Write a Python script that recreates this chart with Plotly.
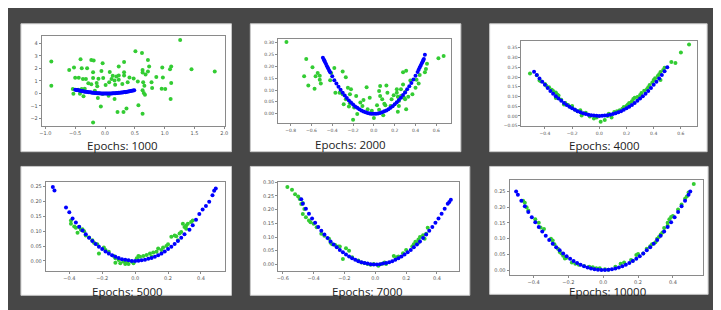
import plotly.graph_objects as go

W, H = 721, 310

# ---------------- DATA ----------------
epochs = ["Epochs: 1000", "Epochs: 2000", "Epochs: 4000",
          "Epochs: 5000", "Epochs: 7000", "Epochs: 10000"]

# Panel 1 (Epochs 1000)
g1x = [-0.90, -0.90, -0.60, -0.52, -0.41, -0.23, -0.19, -0.30, -0.39, -0.04, 1.26, 0.51, 0.62, 0.32,
       0.72, 0.23, -0.06, 0.08, -0.20, 0.32, 0.63, 0.74, 0.96, 1.11, 1.09, 1.45, 1.84, 0.72, 0.68,
       0.63, 0.86, 0.97, -0.50, -0.44, -0.32, -0.37, -0.20, -0.11, -0.03, 0.13, 0.19, 0.23, 0.32,
       0.41, 0.48, 0.11, 0.16, 0.23, 0.38, 0.55, 0.64, 0.78, 1.11, -0.28, -0.14, -0.23, 0.07, 0.01,
       0.17, 0.29, -0.13, -0.34, -0.39, -0.45, -0.54, 0.66, 0.79, 0.95, 1.01, 0.63, 0.65, 0.67,
       -0.53, -0.42, -0.17, -0.04, 0.06, 0.34, -0.36, -0.12, 0.16, 1.10, 0.56, -0.07, 0.36, 0.21,
       0.31, 0.63, -0.20]
g1y = [2.55, 0.61, 1.88, 2.07, 2.73, 2.68, 2.63, 2.02, 2.02, 2.41, 4.27, 3.37, 3.24, 2.52,
       2.68, 2.15, 1.80, 1.72, 1.70, 1.70, 1.88, 2.15, 2.07, 2.15, 1.94, 1.94, 1.75, 1.75, 1.51,
       1.67, 1.30, 1.27, 1.25, 1.25, 1.14, 1.14, 1.22, 1.17, 1.22, 1.41, 1.35, 1.43, 1.43,
       1.27, 1.19, 1.14, 1.03, 1.09, 0.88, 0.95, 0.88, 0.88, 0.82, 0.80, 0.82, 0.72, 0.88, 0.66,
       0.69, 0.74, 0.56, 0.37, 0.34, 0.29, 0.34, 0.61, 0.42, 0.37, 0.34, 0.24, 0.03, -0.11,
       -0.03, -0.03, 0.21, -0.05, -0.19, 0.08, -0.24, -0.37, -0.45, -0.45, -0.95, -1.06, -1.22, -1.49,
       -1.49, -1.64, -2.33]
b1x = [-0.50, -0.48, -0.47, -0.45, -0.43, -0.41, -0.39, -0.37, -0.35, -0.33, -0.31, -0.29, -0.27,
       -0.25, -0.23, -0.21, -0.19, -0.17, -0.15, -0.13, -0.11, -0.09, -0.07, -0.05, -0.03, -0.01,
       0.01, 0.03, 0.05, 0.07, 0.09, 0.11, 0.13, 0.15, 0.17, 0.19, 0.21, 0.23, 0.25, 0.27, 0.29,
       0.31, 0.33, 0.35, 0.37, 0.39, 0.41, 0.43, 0.45, 0.47, 0.49]
b1y = [0.29, 0.27, 0.26, 0.24, 0.22, 0.20, 0.18, 0.16, 0.15, 0.13, 0.12, 0.10, 0.09,
       0.08, 0.06, 0.05, 0.04, 0.03, 0.02, 0.01, 0.00, 0.00, -0.01, -0.01, -0.02, -0.02,
       -0.02, -0.02, -0.02, -0.02, -0.01, -0.01, 0.00, 0.00, 0.01, 0.02, 0.03, 0.04, 0.05, 0.06, 0.07,
       0.08, 0.10, 0.11, 0.13, 0.15, 0.16, 0.18, 0.20, 0.22, 0.24]

# Panel 2 (Epochs 2000)
g2x = [-0.84, -0.65, -0.67, -0.63, -0.59, -0.54, -0.56, -0.52, -0.52, -0.51, -0.57, -0.42, -0.30,
       -0.27, -0.37, -0.33, -0.25, -0.22, -0.30, -0.23, -0.27, -0.29, -0.24, -0.23, -0.19, -0.17,
       -0.16, -0.20, -0.13, -0.10, -0.07, -0.11, -0.06, -0.04, -0.03, -0.02, 0.00, 0.03, 0.05, 0.06,
       0.06, 0.08, 0.10, 0.11, 0.05, 0.09, 0.12, 0.13, 0.16, 0.17, 0.19, 0.22, 0.22, 0.23, 0.24,
       0.24, 0.23, 0.26, 0.26, 0.28, 0.30, 0.29, 0.30, 0.28, 0.31, 0.31, 0.33, 0.35, 0.37, 0.40,
       0.41, 0.43, 0.44, 0.49, 0.50, 0.51, 0.62, 0.67, -0.38, -0.41]
g2y = [0.303, 0.231, 0.158, 0.119, 0.197, 0.172, 0.158, 0.161, 0.144, 0.128, 0.106, 0.142, 0.179,
       0.154, 0.089, 0.089, 0.110, 0.103, 0.082, 0.082, 0.061, 0.040, 0.031, 0.044, 0.026, 0.075,
       -0.001, -0.026, 0.047, 0.058, 0.112, 0.033, 0.019, 0.068, 0.001, 0.012, -0.018, 0.036, 0.096, 0.117,
       0.075, 0.061, 0.042, 0.036, 0.017, -0.006, 0.119, 0.089, 0.033, 0.061, 0.078, 0.103, 0.089, 0.072, 0.054,
       0.033, 0.008, 0.103, 0.075, 0.124, 0.092, 0.068, 0.061, 0.175, 0.182, 0.019, 0.072, 0.140, 0.082, 0.110,
       0.144, 0.128, 0.164, 0.175, 0.189, 0.211, 0.235, 0.244, 0.193, 0.172]
b2x = [-0.49, -0.48, -0.475, -0.47, -0.46, -0.45, -0.44, -0.43, -0.42, -0.40, -0.38, -0.36, -0.34,
       -0.32, -0.30, -0.28, -0.26, -0.24, -0.22, -0.20, -0.18, -0.16, -0.14, -0.12, -0.10, -0.08,
       -0.06, -0.04, -0.02, 0.00, 0.02, 0.04, 0.06, 0.08, 0.10, 0.12, 0.14, 0.16, 0.18, 0.20, 0.22,
       0.24, 0.26, 0.28, 0.30, 0.32, 0.34, 0.36, 0.38, 0.40, 0.42, 0.43, 0.44, 0.45, 0.46, 0.47,
       0.475, 0.48, 0.49]
b2y = [0.237, 0.228, 0.224, 0.219, 0.210, 0.201, 0.192, 0.183, 0.175, 0.158, 0.142, 0.128, 0.114,
       0.101, 0.089, 0.077, 0.066, 0.056, 0.047, 0.039, 0.031, 0.025, 0.019, 0.014, 0.009, 0.006,
       0.003, 0.001, 0.000, 0.000, 0.000, 0.001, 0.003, 0.006, 0.010, 0.014, 0.019, 0.025, 0.032, 0.040, 0.048,
       0.058, 0.068, 0.079, 0.090, 0.103, 0.116, 0.130, 0.145, 0.161, 0.177, 0.186, 0.195, 0.204, 0.213, 0.222,
       0.227, 0.232, 0.249]

# Panel 3 (Epochs 4000)
g3x = [-0.51, -0.46, -0.44, -0.43, -0.40, -0.39, -0.37, -0.35, -0.34, -0.32, -0.31, -0.30, -0.32,
       -0.28, -0.26, -0.25, -0.23, -0.21, -0.20, -0.18, -0.16, -0.14, -0.12, -0.13, -0.10, -0.07,
       -0.04, -0.02, 0.01, 0.04, 0.06, 0.07, 0.09, 0.11, 0.13, 0.15, 0.17, 0.18, 0.20, 0.21, 0.22,
       0.24, 0.25, 0.26, 0.28, 0.30, 0.31, 0.33, 0.35, 0.36, 0.37, 0.39, 0.40, 0.41, 0.43, 0.44,
       0.45, 0.45, 0.47, 0.48, 0.53, 0.56, 0.60, 0.66]
g3y = [0.218, 0.209, 0.182, 0.179, 0.165, 0.155, 0.148, 0.135, 0.128, 0.121, 0.111, 0.105, 0.093,
       0.084, 0.059, 0.067, 0.057, 0.046, 0.051, 0.034, 0.025, 0.029, 0.013, 0.003, 0.017, -0.003,
       -0.013, -0.008, -0.030, -0.020, 0.000, 0.012, -0.008, 0.020, 0.025, 0.030, 0.037, 0.046, 0.051, 0.059, 0.067,
       0.076, 0.088, 0.094, 0.098, 0.108, 0.118, 0.130, 0.138, 0.148, 0.159, 0.172, 0.185, 0.194, 0.206, 0.214,
       0.226, 0.185, 0.236, 0.248, 0.277, 0.273, 0.327, 0.368]
b3x = [-0.48, -0.46, -0.44, -0.42, -0.40, -0.38, -0.36, -0.34, -0.32, -0.30, -0.28, -0.26, -0.24,
       -0.22, -0.20, -0.18, -0.16, -0.14, -0.12, -0.10, -0.08, -0.06, -0.04, -0.02, 0.00, 0.02,
       0.04, 0.06, 0.08, 0.10, 0.12, 0.14, 0.16, 0.18, 0.20, 0.22, 0.24, 0.26, 0.28, 0.30, 0.32,
       0.34, 0.36, 0.38, 0.40, 0.42, 0.44, 0.46, 0.48, 0.50]
b3y = [0.228, 0.211, 0.193, 0.176, 0.160, 0.144, 0.129, 0.115, 0.102, 0.090, 0.078, 0.067, 0.057,
       0.048, 0.040, 0.032, 0.025, 0.019, 0.014, 0.010, 0.006, 0.004, 0.002, 0.001, 0.000, 0.001,
       0.002, 0.004, 0.006, 0.010, 0.014, 0.019, 0.025, 0.032, 0.040, 0.048, 0.057, 0.067, 0.078, 0.090, 0.102,
       0.115, 0.129, 0.144, 0.160, 0.176, 0.193, 0.211, 0.230, 0.250]

# Panel 4 (Epochs 5000)
g4x = [-0.39, -0.39, -0.37, -0.36, -0.34, -0.33, -0.32, -0.31, -0.35, -0.30, -0.28, -0.26, -0.25,
       -0.23, -0.22, -0.19, -0.18, -0.16, -0.13, -0.12, -0.12, -0.10, -0.09, -0.07, -0.06, -0.05,
       -0.04, -0.02, -0.01, 0.01, 0.02, 0.03, 0.05, 0.07, 0.09, 0.10, 0.11, 0.13, 0.14, 0.16, 0.17,
       0.19, 0.20, 0.22, 0.24, 0.25, 0.27, 0.28, 0.29, 0.30, 0.31, 0.32, 0.34, 0.35, 0.31, 0.26]
g4y = [0.136, 0.125, 0.116, 0.112, 0.114, 0.105, 0.107, 0.100, 0.095, 0.086, 0.079, 0.070, 0.061,
       0.056, 0.025, 0.045, 0.037, 0.031, 0.017, 0.009, -0.006, 0.003, -0.008, -0.002, -0.010, -0.006,
       -0.010, -0.002, -0.008, 0.009, 0.017, 0.014, 0.017, 0.020, 0.025, 0.014, 0.028, 0.031, 0.042, 0.037, 0.045,
       0.050, 0.056, 0.081, 0.086, 0.083, 0.092, 0.097, 0.125, 0.114, 0.119, 0.125, 0.131, 0.136, 0.108, 0.070]
b4x = [-0.50, -0.49, -0.42, -0.40, -0.38, -0.36, -0.34, -0.32, -0.30, -0.28, -0.26, -0.24, -0.22,
       -0.20, -0.18, -0.16, -0.14, -0.12, -0.10, -0.08, -0.06, -0.04, -0.02, 0.00, 0.02, 0.04,
       0.06, 0.08, 0.10, 0.12, 0.14, 0.16, 0.18, 0.20, 0.22, 0.24, 0.26, 0.28, 0.30, 0.33, 0.35,
       0.37, 0.39, 0.41, 0.43, 0.45, 0.47, 0.48, 0.49]
b4y = [0.249, 0.237, 0.180, 0.164, 0.143, 0.129, 0.115, 0.102, 0.090, 0.078, 0.067, 0.057, 0.048,
       0.040, 0.032, 0.025, 0.019, 0.014, 0.010, 0.006, 0.004, 0.002, 0.000, 0.000, 0.001,
       0.002, 0.004, 0.007, 0.010, 0.014, 0.019, 0.025, 0.032, 0.040, 0.048, 0.057, 0.067, 0.078, 0.090,
       0.105, 0.120, 0.139, 0.158, 0.173, 0.185, 0.199, 0.221, 0.236, 0.244]

# Panel 5 (Epochs 7000)
g5x = [-0.57, -0.54, -0.52, -0.50, -0.49, -0.48, -0.47, -0.46, -0.47, -0.45, -0.43, -0.42, -0.40,
       -0.38, -0.35, -0.33, -0.30, -0.29, -0.28, -0.26, -0.24, -0.23, -0.21, -0.19, -0.17, -0.15,
       -0.11, -0.09, -0.07, -0.05, -0.03, -0.01, 0.02, 0.04, 0.06, 0.07, 0.12, 0.14, 0.15, 0.18,
       0.20, 0.24, 0.25, 0.26, 0.28, 0.29, 0.31, 0.32, 0.33, 0.34, 0.28]
g5y = [0.282, 0.272, 0.256, 0.248, 0.239, 0.220, 0.224, 0.202, 0.184, 0.172, 0.160, 0.154, 0.148,
       0.136, 0.112, 0.105, 0.094, 0.079, 0.074, 0.071, 0.065, 0.065, 0.020, 0.059, 0.050, 0.026,
       0.014, 0.007, 0.005, 0.002, -0.001, 0.002, -0.005, 0.002, 0.007, 0.002, 0.031, 0.026, 0.029, 0.041,
       0.053, 0.065, 0.074, 0.083, 0.091, 0.100, 0.106, 0.094, 0.112, 0.134, 0.079]
b5x = [-0.48, -0.47, -0.45, -0.43, -0.41, -0.39, -0.37, -0.35, -0.33, -0.31, -0.29, -0.27, -0.25,
       -0.23, -0.21, -0.19, -0.17, -0.15, -0.13, -0.11, -0.09, -0.07, -0.05, -0.03, -0.01, 0.01,
       0.03, 0.05, 0.07, 0.09, 0.11, 0.13, 0.15, 0.17, 0.19, 0.21, 0.23, 0.25, 0.27, 0.29, 0.31,
       0.33, 0.35, 0.37, 0.39, 0.41, 0.43, 0.45, 0.47, 0.48, 0.49]
b5y = [0.238, 0.221, 0.203, 0.185, 0.168, 0.152, 0.137, 0.123, 0.109, 0.096, 0.084, 0.073, 0.063,
       0.053, 0.044, 0.036, 0.029, 0.023, 0.017, 0.012, 0.008, 0.005, 0.003, 0.001, 0.000, 0.000,
       0.001, 0.003, 0.005, 0.008, 0.012, 0.017, 0.023, 0.029, 0.036, 0.044, 0.053, 0.063, 0.073, 0.084, 0.096,
       0.109, 0.123, 0.137, 0.152, 0.168, 0.185, 0.203, 0.221, 0.228, 0.236]

# Panel 6 (Epochs 10000)
g6x = [-0.46, -0.45, -0.44, -0.43, -0.39, -0.37, -0.36, -0.34, -0.30, -0.29, -0.28, -0.26, -0.25,
       -0.24, -0.23, -0.22, -0.21, -0.18, -0.16, -0.14, -0.11, -0.08, -0.06, -0.04, -0.02, 0.01,
       0.03, 0.07, 0.10, 0.12, 0.16, 0.17, 0.19, 0.20, 0.23, 0.25, 0.27, 0.28, 0.30, 0.31, 0.32,
       0.33, 0.34, 0.35, 0.37, 0.37, 0.38, 0.39, 0.40, 0.43, 0.45, 0.47, 0.48, 0.49, 0.52]
g6y = [0.221, 0.214, 0.200, 0.190, 0.162, 0.151, 0.136, 0.131, 0.100, 0.094, 0.082, 0.068, 0.058,
       0.053, 0.046, 0.037, 0.039, 0.024, 0.020, 0.017, 0.013, 0.011, 0.009, 0.006, 0.006, 0.003,
       0.001, 0.011, 0.020, 0.024, 0.032, 0.030, 0.048, 0.051, 0.053, 0.068, 0.076, 0.082, 0.089, 0.100, 0.105,
       0.113, 0.120, 0.134, 0.141, 0.151, 0.162, 0.169, 0.172, 0.193, 0.209, 0.227, 0.234, 0.247, 0.274]
b6x = [-0.50, -0.49, -0.47, -0.45, -0.43, -0.41, -0.39, -0.37, -0.35, -0.33, -0.31, -0.29, -0.27,
       -0.25, -0.23, -0.21, -0.19, -0.17, -0.15, -0.13, -0.11, -0.09, -0.07, -0.05, -0.03, -0.01,
       0.01, 0.03, 0.05, 0.07, 0.09, 0.11, 0.13, 0.15, 0.17, 0.19, 0.21, 0.23, 0.25, 0.27, 0.29,
       0.31, 0.33, 0.35, 0.37, 0.39, 0.41, 0.43, 0.45, 0.47, 0.49, 0.50]
b6y = [0.250, 0.240, 0.221, 0.203, 0.185, 0.168, 0.152, 0.137, 0.123, 0.109, 0.096, 0.084, 0.073,
       0.063, 0.053, 0.044, 0.036, 0.029, 0.023, 0.017, 0.012, 0.008, 0.005, 0.003, 0.001, 0.000,
       0.000, 0.001, 0.003, 0.005, 0.008, 0.012, 0.017, 0.023, 0.029, 0.036, 0.044, 0.053, 0.063, 0.073, 0.084,
       0.096, 0.109, 0.123, 0.137, 0.152, 0.168, 0.185, 0.203, 0.221, 0.240, 0.250]

greens = [(g1x, g1y), (g2x, g2y), (g3x, g3y), (g4x, g4y), (g5x, g5y), (g6x, g6y)]
blues = [(b1x, b1y), (b2x, b2y), (b3x, b3y), (b4x, b4y), (b5x, b5y), (b6x, b6y)]

# ---------------- LAYOUT (pixels) ----------------
cards = [(11, 13, 223, 143), (242, 13, 454, 143), (483, 13, 702, 143),
         (11, 158, 223, 289), (242, 158, 463, 289), (483, 158, 703, 288)]
plots = [(32, 25, 217, 117), (270, 28, 444, 114), (515, 30, 692, 117),
         (36, 174, 217, 264), (270, 174, 452, 264), (503, 172, 698, 268)]
captions = [(113.5, 137), (342.5, 135.5), (598.3, 137),
            (118.5, 285.5), (359.8, 285.5), (602, 285.5)]
xranges = [[-1.06, 2.02], [-0.92, 0.74], [-0.573, 0.72],
           [-0.543, 0.549], [-0.63, 0.542], [-0.538, 0.574]]
yranges = [[-2.63, 4.63], [-0.040, 0.318], [-0.052, 0.388],
           [-0.033, 0.265], [-0.023, 0.300], [-0.0145, 0.286]]
xdt = [0.5, 0.2, 0.2, 0.2, 0.2, 0.2]
ydt = [1, 0.05, 0.05, 0.05, 0.05, 0.05]
yfmt = ["d", ".2f", ".2f", ".2f", ".2f", ".2f"]
tfs = [5, 4.5, 4.5, 5, 5, 5]


def px(x):
    return x / W


def py(y):
    return 1 - y / H


fig = go.Figure()
shapes = []
annotations = []
GREEN = "#33cc33"
BLUE = "#0000ff"

for i in range(6):
    ax = "" if i == 0 else str(i + 1)
    cx0, cy0, cx1, cy1 = cards[i]
    shapes.append(dict(type="rect", xref="paper", yref="paper",
                       x0=px(cx0), x1=px(cx1), y0=py(cy1), y1=py(cy0),
                       fillcolor="white", line=dict(color="#c8c8c8", width=1), layer="below"))
    x0, y0, x1, y1 = plots[i]
    gx, gy = greens[i]
    bx, by = blues[i]
    fig.add_trace(go.Scatter(x=gx, y=gy, mode="markers", xaxis="x" + ax, yaxis="y" + ax,
                             marker=dict(color=GREEN, size=4, line=dict(width=0)), showlegend=False))
    fig.add_trace(go.Scatter(x=bx, y=by, mode="markers", xaxis="x" + ax, yaxis="y" + ax,
                             marker=dict(color=BLUE, size=4, line=dict(width=0)), showlegend=False))
    common = dict(showgrid=False, zeroline=False, showline=True, mirror=True,
                  linecolor="#8a8a8a", linewidth=1, ticks="outside", ticklen=2,
                  tickcolor="#8a8a8a", tickwidth=0.8,
                  tickfont=dict(family="DejaVu Sans", size=tfs[i], color="#555555"))
    fig.update_layout(**{
        "xaxis" + ax: dict(domain=[px(x0), px(x1)], range=xranges[i], anchor="y" + ax,
                           tick0=0, dtick=xdt[i], tickformat=".1f", **common),
        "yaxis" + ax: dict(domain=[py(y1), py(y0)], range=yranges[i], anchor="x" + ax,
                           tick0=0, dtick=ydt[i], tickformat=yfmt[i], **common),
    })
    tx, ty = captions[i]
    annotations.append(dict(text=epochs[i], x=px(tx), y=py(ty), xref="paper", yref="paper",
                            showarrow=False, xanchor="center", yanchor="middle",
                            font=dict(family="Open Sans", size=11.5, color="#222222")))

fig.update_layout(width=W, height=H, margin=dict(l=0, r=0, t=0, b=0),
                  paper_bgcolor="#474747", plot_bgcolor="white",
                  shapes=shapes, annotations=annotations)

fig.write_html("out.html")
